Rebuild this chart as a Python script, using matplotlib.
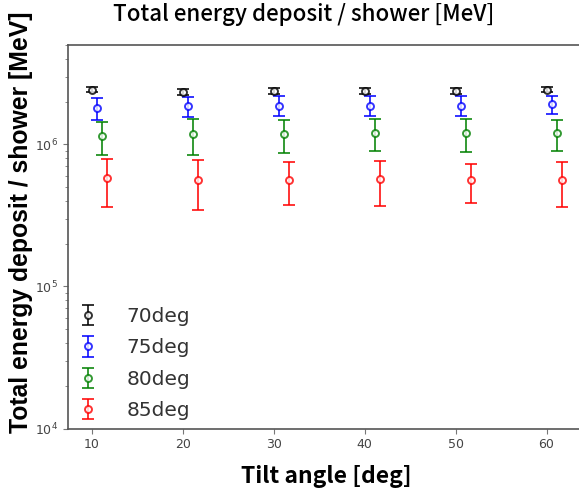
"""Energy deposit per shower vs tilt angle, one series per zenith angle"""

import matplotlib.pyplot as plt

tilt = [10, 20, 30, 40, 50, 60]
zenith_labels = ['70deg', '75deg', '80deg', '85deg']
shift = [0.0, 0.6, 1.1, 1.7]
colors = ['k', 'b', 'g', 'r']

# mean deposit and spread in MeV
dep_70 = [2.43e6, 2.34e6, 2.365e6, 2.365e6, 2.365e6, 2.43e6]
err_70 = [0.11e6, 0.12e6, 0.12e6, 0.12e6, 0.12e6, 0.11e6]
dep_75 = [1.806e6, 1.847e6, 1.877e6, 1.877e6, 1.877e6, 1.908e6]
err_75 = [0.32e6, 0.30e6, 0.30e6, 0.30e6, 0.30e6, 0.28e6]
dep_80 = [1.144e6, 1.175e6, 1.175e6, 1.206e6, 1.194e6, 1.194e6]
err_80 = [0.30e6, 0.33e6, 0.30e6, 0.307e6, 0.31e6, 0.29e6]
dep_85 = [0.578e6, 0.559e6, 0.559e6, 0.568e6, 0.559e6, 0.559e6]
err_85 = [0.215e6, 0.213e6, 0.187e6, 0.20e6, 0.172e6, 0.195e6]

deps = [dep_70, dep_75, dep_80, dep_85]
errs = [err_70, err_75, err_80, err_85]

fig = plt.figure(figsize=(5.79, 4.95), dpi=100)
fig.set_facecolor('w')
ax = fig.add_axes([0.1174, 0.1343, 0.894, 0.7747])

for dep, err, dx, c, lab in zip(deps, errs, shift, colors, zenith_labels):
    xs = [t + dx for t in tilt]
    ax.errorbar(xs, dep, yerr=err, fmt='o', color=c, mfc='w', mec=c,
                ms=5, mew=1.4, elinewidth=1.4, capsize=4, capthick=1.4,
                alpha=0.8, label=lab)

ax.set_yscale('log')
ax.set_ylim(1e4, 5e6)
ax.set_xlim(7.36, 64.3)
ax.set_xticks(tilt)

for side in ['top', 'right', 'left', 'bottom']:
    ax.spines[side].set_color('#555555')
    ax.spines[side].set_linewidth(1.2)
ax.tick_params(which='both', colors='#777777', labelcolor='#444444', labelsize=9)

jp = ['Noto Sans CJK JP', 'DejaVu Sans']
ax.set_title('Total energy deposit / shower [MeV]', family=jp, weight='medium',
             fontsize=16, pad=0, x=0.456, y=1.062)
ax.set_xlabel('Tilt angle [deg]', family=jp, weight='bold', fontsize=16.5, labelpad=10)
ax.set_ylabel('Total energy deposit / shower [MeV]', family='Liberation Sans',
              weight='bold', fontsize=17.8)
ax.yaxis.set_label_coords(-0.0676, 0.537)

leg = ax.legend(loc='lower left', frameon=False, prop={'size': 14.5},
                handlelength=1.2, handletextpad=1.3, labelspacing=0.62,
                borderaxespad=0.0)
for t in leg.get_texts():
    t.set_color('#333333')

fig.savefig('out.png', dpi=100)
